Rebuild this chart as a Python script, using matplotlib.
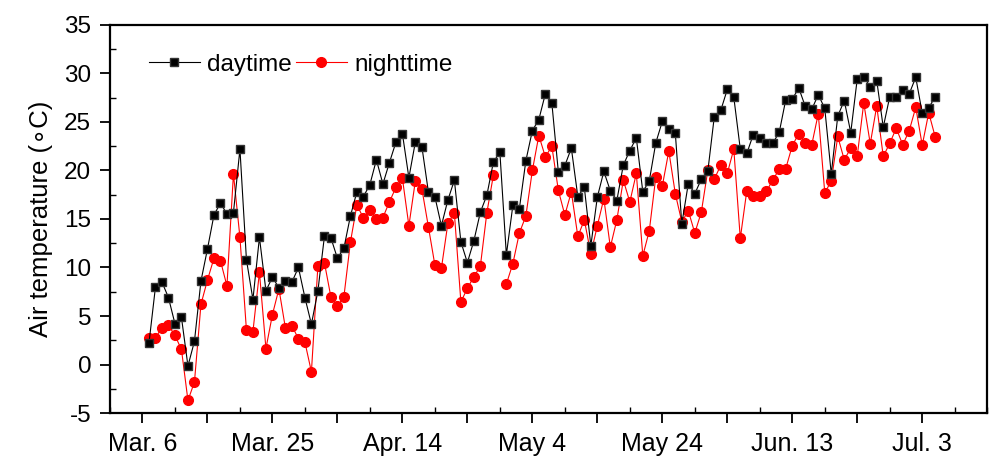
import numpy as np
import matplotlib
matplotlib.use('Agg')
import matplotlib.pyplot as plt
from matplotlib.ticker import MultipleLocator

plt.rcParams['font.family'] = ['Liberation Sans', 'DejaVu Sans']
plt.rcParams['axes.unicode_minus'] = False

# day number counted from Mar. 6
days = list(range(1, 123))

daytime = [2.2, 8.0, 8.5, 6.9, 4.2, 4.85, -0.15, 2.4, 8.6, 11.9,
           15.4, 16.65, 15.5, 15.65, 22.2, 10.8, 6.7, 13.1, 7.6, 9.0,
           7.9, 8.6, 8.5, 10.0, 6.9, 4.15, 7.6, 13.2, 13.05, 10.95,
           12.0, 15.3, 17.8, 17.3, 18.55, 21.1, 18.6, 20.8, 22.9, 23.8,
           19.25, 22.95, 22.45, 17.8, 17.3, 14.3, 16.95, 19.0, 12.65, 10.5,
           12.75, 15.7, 17.45, 20.85, 21.9, 11.3, 16.4, 16.05, 21.0, 24.1,
           25.25, 27.9, 26.95, 19.85, 20.5, 22.3, 17.3, 18.25, 12.25, 17.25,
           19.9, 17.9, 16.9, 20.55, 22.05, 23.35, 17.8, 18.95, 22.85, 25.05,
           24.25, 23.85, 14.5, 18.65, 17.6, 19.1, 19.9, 25.55, 26.2, 28.35,
           27.55, 22.2, 21.75, 23.7, 23.3, 22.8, 22.8, 23.95, 27.3, 27.35,
           28.5, 26.6, 26.3, 27.8, 26.4, 19.65, 25.6, 27.2, 23.9, 29.45,
           29.6, 28.65, 29.25, 24.45, 27.6, 27.6, 28.3, 27.9, 29.6, 25.9,
           26.45, 27.6]

nighttime = [2.7, 2.75, 3.8, 4.05, 3.0, 1.55, -3.7, -1.8, 6.2, 8.7,
             10.95, 10.7, 8.1, 19.65, 13.1, 3.55, 3.4, 9.5, 1.65, 5.15,
             7.8, 3.75, 4.0, 2.65, 2.3, -0.75, 10.2, 10.5, 6.95, 6.0,
             7.0, 12.6, 16.45, 15.1, 15.95, 15.0, 15.15, 16.75, 18.25, 19.2,
             14.3, 18.95, 18.1, 14.2, 10.25, 9.9, 14.55, 15.6, 6.45, 7.85,
             9.05, 10.15, 15.65, 19.5, np.nan, 8.3, 10.4, 13.55, 15.3, 20.0,
             23.6, 21.4, 22.5, 17.95, 15.4, 17.8, 13.2, 14.9, 11.4, 14.3,
             17.1, 12.1, 14.9, 19.0, 16.75, 19.7, 11.2, 13.8, 19.35, 18.4,
             22.0, 17.6, 14.7, 15.85, 13.55, 15.7, 20.0, 19.1, 20.55, 19.7,
             22.2, 13.0, 17.9, 17.4, 17.4, 17.85, 19.0, 20.15, 20.2, 22.55,
             23.8, 22.85, 22.65, 25.85, 17.7, 18.9, 23.5, 21.1, 22.3, 21.5,
             26.95, 22.75, 26.65, 21.45, 22.8, 24.35, 22.65, 24.1, 26.5, 22.6,
             25.95, 23.45]

tick_days = [0, 20, 40, 60, 80, 100, 120]
tick_labels = ['Mar. 6', 'Mar. 25', 'Apr. 14', 'May 4', 'May 24', 'Jun. 13', 'Jul. 3']

fig = plt.figure(figsize=(9.89, 4.61), dpi=100)
ax = fig.add_axes([0.1112, 0.104, 0.887, 0.842])

ax.plot(days, nighttime, '-o', color='red', lw=0.8, ms=7, mec='red',
        label='nighttime', zorder=2)
ax.plot(days, daytime, '-s', color='black', lw=0.8, ms=6, mec='#333333',
        label='daytime', zorder=3)

ax.set_xlim(-5, 130)
ax.set_ylim(-5, 35)
major_days = list(range(0, 130, 10))
ax.set_xticks(major_days)
ax.set_xticklabels([tick_labels[tick_days.index(d)] if d in tick_days else ''
                    for d in major_days])
ax.xaxis.set_minor_locator(MultipleLocator(5))
ax.yaxis.set_major_locator(MultipleLocator(5))
ax.yaxis.set_minor_locator(MultipleLocator(2.5))

ax.tick_params(which='major', direction='out', length=7.5, width=1.3,
               labelsize=17.5, pad=6)
ax.tick_params(axis='x', which='major', labelsize=18, pad=6)
ax.tick_params(which='minor', direction='in', length=4, width=1.0)
for s in ax.spines.values():
    s.set_linewidth(1.6)

ax.set_ylabel('Air temperature (\u2218C)', fontsize=18.5, labelpad=8)

h, l = ax.get_legend_handles_labels()
ax.legend(h[::-1], l[::-1], loc='upper left', ncol=2, frameon=False,
          fontsize=17.5, handlelength=2.1, handletextpad=0.3,
          columnspacing=0.15, bbox_to_anchor=(0.025, 0.97), borderaxespad=0.3)

fig.savefig('out.png', dpi=100)
